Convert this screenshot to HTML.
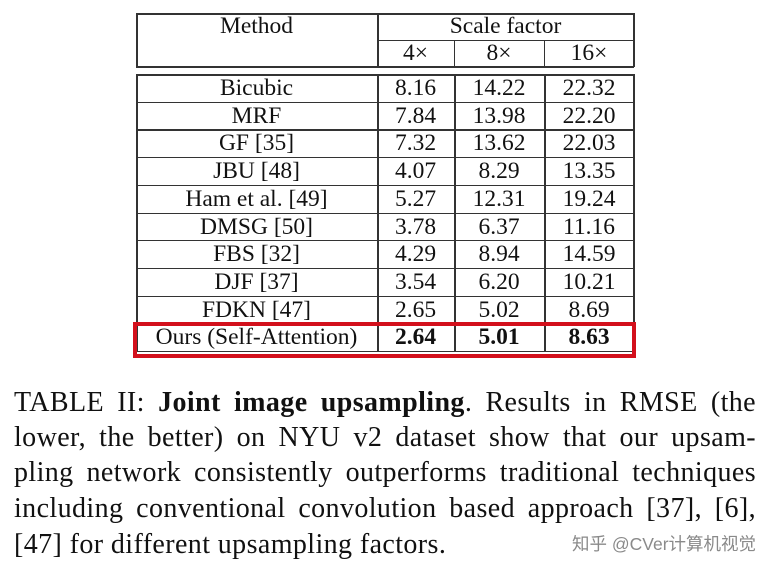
<!DOCTYPE html>
<html><head><meta charset="utf-8">
<style>
body{margin:0;width:771px;height:572px;background:#fff;position:relative;overflow:hidden;font-family:"Liberation Serif",serif;color:#111}
.c{position:absolute;text-align:center;font-size:23.5px;white-space:nowrap;line-height:24px}
.ln{position:absolute;background:#333}
.cl{position:absolute;left:14px;width:742px;font-size:28px;letter-spacing:0.4px;line-height:30px;text-align:justify;text-align-last:justify;white-space:nowrap}
</style></head><body>
<div style="position:absolute;left:133px;top:322px;width:495px;height:28px;border:4px solid #d3101c;z-index:2"></div>
<div>
<div class="cl" style="top:388px">TABLE II: <b>Joint image upsampling</b>. Results in RMSE (the</div>
<div class="cl" style="top:423px">lower, the better) on NYU v2 dataset show that our upsam-</div>
<div class="cl" style="top:458px">pling network consistently outperforms traditional techniques</div>
<div class="cl" style="top:494px">including conventional convolution based approach [37], [6],</div>
<div class="cl" style="top:530px;text-align-last:left">[47] for different upsampling factors.</div>
</div>
<div style="position:absolute;left:572px;top:531px;font-size:17.5px;white-space:nowrap;color:#8a8a8a;font-family:'Liberation Sans','Noto Sans CJK SC',sans-serif">知乎 @CVer计算机视觉</div>
<script>
const methods=["Bicubic","MRF","GF [35]","JBU [48]","Ham et al. [49]","DMSG [50]","FBS [32]","DJF [37]","FDKN [47]","Ours (Self-Attention)"];
const v4=["8.16","7.84","7.32","4.07","5.27","3.78","4.29","3.54","2.65","2.64"];
const v8=["14.22","13.98","13.62","8.29","12.31","6.37","8.94","6.20","5.02","5.01"];
const v16=["22.32","22.20","22.03","13.35","19.24","11.16","14.59","10.21","8.69","8.63"];
const X=[136,377,454,544,634],bd=document.body;
function line(x,y,w,h,n){const d=document.createElement('div');d.className='ln';d.style.cssText=`left:${x}px;top:${y}px;width:${w}px;height:${h}px`;

bd.appendChild(d);}
function cell(x0,x1,y,txt,n,bold){const d=document.createElement('div');d.className='c';d.style.cssText=`left:${x0}px;width:${x1-x0}px;top:${y}px;${bold?'font-weight:bold':''}`;d.textContent=txt;

bd.appendChild(d);}
line(136,13,498,1.5,'header-top-border');line(377,40,257,1.2,'header-mid-line');line(136,66,498,1.5,'header-bottom-border');
line(136,13,1.5,54,'header-left-border');line(377,13,1.5,54,'header-divider');line(633,13,1.5,54,'header-right-border');
line(454,40,1.2,27,'header-divider-8x');line(544,40,1.2,27,'header-divider-16x');
cell(136,377,14,'Method','method-header');cell(377,634,14,'Scale factor','scale-factor-header');
cell(377,454,41,'4×','col-4x');cell(454,544,41,'8×','col-8x');cell(544,634,41,'16×','col-16x');
const tY=74,rh=27.7;
line(136,tY,498,1.5,'body-top-border');
for(let i=0;i<methods.length;i++){const y=tY+i*rh,bold=i==methods.length-1;
cell(X[0],X[1],y+2,methods[i],'method-'+i);cell(X[1],X[2],y+2,v4[i],'value-4x-'+i,bold);cell(X[2],X[3],y+2,v8[i],'value-8x-'+i,bold);cell(X[3],X[4],y+2,v16[i],'value-16x-'+i,bold);
line(136,y+rh,498,1.2,'row-line-'+i);}
const hh=methods.length*rh;
X.forEach((x,j)=>line(j==4?x-1:x,tY,1.5,hh,'col-line-'+j));
</script>
</body></html>
